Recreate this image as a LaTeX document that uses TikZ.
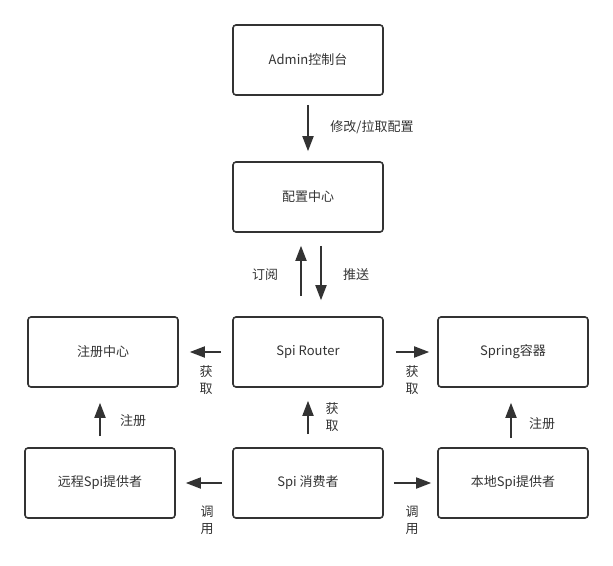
\documentclass[tikz,border=0pt]{standalone}
\usepackage{fontspec}
\setmainfont{Noto Sans CJK SC}
\usetikzlibrary{arrows.meta}
\definecolor{ink}{HTML}{333333}
\tikzset{
    block/.style={draw=ink, line width=1.6pt, rounded corners=3pt, minimum width=150pt, minimum height=70pt, font=\fontsize{13}{15}\selectfont, text=ink},
    flow/.style={-{Triangle[length=15pt,width=11pt]}, draw=ink, line width=1.8pt},
    tag/.style={font=\fontsize{13}{17}\selectfont, text=ink, align=center}
}
\begin{document}
\begin{tikzpicture}[x=1pt,y=-1pt]
    \useasboundingbox (0,0) rectangle (613,565);
    % boxes
    \node[block] (admin) at (308,60) {Admin控制台};
    \node[block] (config) at (308,197) {配置中心};
    \node[block] (router) at (308,352) {Spi Router};
    \node[block] (registry) at (103,352) {注册中心};
    \node[block] (spring) at (513,352) {Spring容器};
    \node[block] (remote) at (100,483) {远程Spi提供者};
    \node[block] (consumer) at (308,483) {Spi 消费者};
    \node[block] (local) at (513,483) {本地Spi提供者};
    % connectors
    \draw[flow, shorten <=9pt, shorten >=10pt] (admin.south) -- (config.north);
    \draw[flow, shorten <=20pt, shorten >=13pt] ([xshift=-7pt]router.north) -- ([xshift=-7pt]config.south);
    \draw[flow, shorten <=13pt, shorten >=16pt] ([xshift=13pt]config.south) -- ([xshift=13pt]router.north);
    \draw[flow, shorten <=11pt, shorten >=11pt] (router.west) -- (registry.east);
    \draw[flow, shorten <=12pt, shorten >=8pt] (router.east) -- (spring.west);
    \draw[flow, shorten <=13pt, shorten >=13pt] (consumer.north) -- (router.south);
    \draw[flow, shorten <=10pt, shorten >=10pt] (consumer.west) -- (remote.east);
    \draw[flow, shorten <=10pt, shorten >=6pt] (consumer.east) -- (local.west);
    \draw[flow, shorten <=11pt, shorten >=15pt] (remote.north) -- ([xshift=-3pt]registry.south);
    \draw[flow, shorten <=9pt, shorten >=15pt] ([xshift=-2pt]local.north) -- ([xshift=-2pt]spring.south);
    % labels
    \node[tag] (tagEdit) at (372,127) {修改/拉取配置};
    \node[tag] (tagSub) at (265,275) {订阅};
    \node[tag] (tagPush) at (356,275) {推送};
    \foreach \name/\x/\y/\txt in {getL/206/380/获\\取, getR/412/380/获\\取, getC/332/417/获\\取, callL/207/520/调\\用, callR/412/520/调\\用} {
        \node[tag] (\name) at (\x,\y) {\txt};
    }
    \node[tag] (regL) at (133,421) {注册};
    \node[tag] (regR) at (542,424) {注册};
\end{tikzpicture}
\end{document}
